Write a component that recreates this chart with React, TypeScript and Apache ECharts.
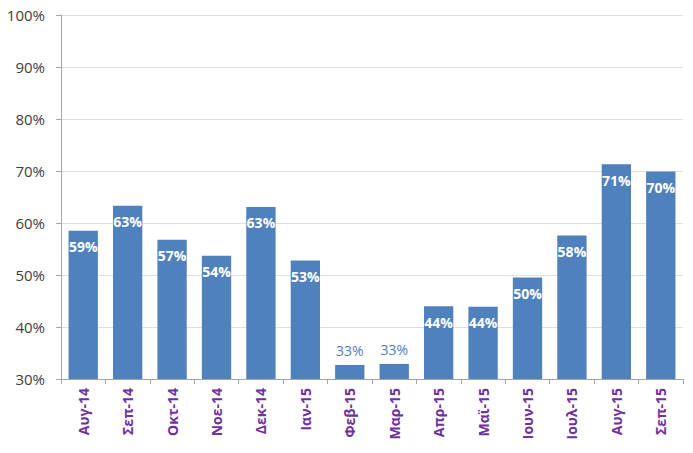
import React, { useEffect, useRef } from "react";
import * as echarts from "echarts";

const categories = ["Αυγ-14", "Σεπ-14", "Οκτ-14", "Νοε-14", "Δεκ-14", "Ιαν-15", "Φεβ-15", "Μαρ-15", "Απρ-15", "Μαϊ-15", "Ιουν-15", "Ιουλ-15", "Αυγ-15", "Σεπ-15"];
const values = [58.5, 63.3, 56.8, 53.7, 63.1, 52.8, 32.7, 32.9, 44.0, 43.9, 49.5, 57.6, 71.3, 69.9];
const outsideLabelThreshold = 40;

export default function App() {
  const ref = useRef<HTMLDivElement>(null);
  useEffect(() => {
    if (!ref.current) return;
    const chart = echarts.init(ref.current, undefined, { renderer: "svg" });
    const data = values.map((v) => {
      const outside = v < outsideLabelThreshold;
      return {
        value: v,
        label: outside
          ? { position: "top", distance: 7, color: "#4f7fbd", fontWeight: "normal" }
          : { position: "insideTop", distance: 9, color: "#ffffff", fontWeight: "bold" },
      };
    });
    chart.setOption({
      animation: false,
      backgroundColor: "#ffffff",
      grid: { left: 61, right: 10, top: 15, bottom: 74, containLabel: false },
      xAxis: {
        type: "category",
        data: categories,
        boundaryGap: true,
        axisLine: { show: true, lineStyle: { color: "#a6a6a6", width: 1 } },
        axisTick: { show: true, inside: false, length: 5, alignWithLabel: false, lineStyle: { color: "#a6a6a6" } },
        axisLabel: {
          rotate: 90,
          interval: 0,
          margin: 9,
          color: "#7030a0",
          fontWeight: "bold",
          fontSize: 14,
          fontFamily: "Open Sans",
        },
        splitLine: { show: false },
      },
      yAxis: {
        type: "value",
        min: 30,
        max: 100,
        interval: 10,
        axisLine: { show: true, lineStyle: { color: "#a6a6a6", width: 1 } },
        axisTick: { show: true, length: 5, lineStyle: { color: "#a6a6a6" } },
        axisLabel: {
          formatter: (v: number) => v + "%",
          color: "#404040",
          fontSize: 15,
          margin: 16,
          fontFamily: "Open Sans",
        },
        splitLine: { show: true, lineStyle: { color: "#e0e0e0", width: 1 } },
      },
      series: [
        {
          type: "bar",
          data,
          barCategoryGap: "34%",
          itemStyle: { color: "#4f81bd" },
          label: {
            show: true,
            formatter: (p: any) => Math.round(p.value) + "%",
            fontSize: 14,
            fontFamily: "Open Sans",
          },
        },
      ],
    });
    return () => chart.dispose();
  }, []);
  return <div ref={ref} style={{ width: 693, height: 453, position: "absolute", left: 0, top: 0 }} />;
}
